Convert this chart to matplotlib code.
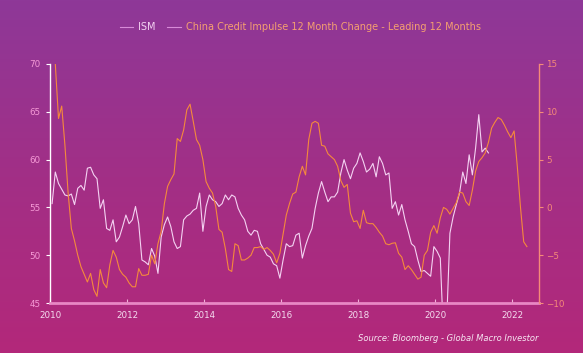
import matplotlib
matplotlib.use("Agg")
import matplotlib.pyplot as plt
import numpy as np
from matplotlib.colors import LinearSegmentedColormap

# monthly values, first ISM point is Jan 2010, first credit impulse point is Feb 2010
ism = [
    55.4, 58.7, 57.5, 56.9, 56.3, 56.2, 56.4, 55.3, 57.0, 57.3, 56.8, 59.1,  # 2010
    59.2, 58.4, 58.0, 54.9, 55.8, 52.8, 52.6, 53.7, 51.4, 51.9, 53.0, 54.2,  # 2011
    53.3, 53.7, 55.1, 53.3, 49.5, 49.3, 49.0, 50.7, 49.9, 48.1, 51.9, 53.2,  # 2012
    54.0, 53.0, 51.4, 50.7, 50.9, 53.7, 54.1, 54.3, 54.7, 54.9, 56.5, 52.5,  # 2013
    55.1, 56.3, 55.8, 55.6, 55.1, 55.4, 56.3, 55.8, 56.3, 56.1, 54.9, 54.2,  # 2014
    53.7, 52.5, 52.1, 52.6, 52.5, 51.2, 50.6, 50.0, 49.8, 49.1, 48.9, 47.6,  # 2015
    49.5, 51.2, 50.9, 51.0, 52.1, 52.3, 49.7, 51.0, 52.0, 52.8, 54.9, 56.5,  # 2016
    57.7, 56.6, 55.6, 56.1, 56.1, 56.6, 58.6, 60.0, 58.9, 58.0, 59.1, 59.6,  # 2017
    60.7, 59.8, 58.7, 59.0, 59.6, 58.2, 60.3, 59.6, 58.4, 58.6, 54.9, 55.6,  # 2018
    54.2, 55.3, 53.7, 52.5, 51.2, 50.9, 49.5, 48.3, 48.4, 48.1, 47.8, 50.9,  # 2019
    50.4, 49.7, 41.5, 43.1, 52.3, 54.0, 55.3, 56.5, 58.7, 57.5, 60.5, 58.4,  # 2020
    61.2, 64.7, 60.8, 61.2, 60.7,                                            # 2021
]

credit = [
    15.0, 9.3, 10.6, 6.5, 1.5, -2.2, -3.5, -5.0, -6.2, -7.0, -7.8,           # 2010
    -6.9, -8.6, -9.3, -6.5, -7.9, -8.4, -6.0, -4.5, -5.2, -6.5, -7.0, -7.3,  # 2011
    -7.9, -8.3, -8.3, -6.4, -7.1, -7.1, -7.0, -5.0, -5.9, -3.8, -2.5, 0.4,   # 2012
    2.2, 2.9, 3.5, 7.2, 6.9, 8.1, 10.2, 10.8, 9.0, 7.1, 6.5, 5.0,            # 2013
    2.7, 2.0, 1.5, 0.1, -2.3, -2.6, -4.3, -6.5, -6.7, -3.8, -4.0, -5.5,      # 2014
    -5.5, -5.3, -5.0, -4.2, -4.2, -4.1, -4.4, -4.2, -4.5, -4.9, -5.8, -4.8,  # 2015
    -2.8, -0.8, 0.4, 1.4, 1.6, 3.2, 4.3, 3.4, 7.1, 8.8, 9.0, 8.8,            # 2016
    6.5, 6.4, 5.6, 5.3, 5.0, 4.3, 2.8, 2.1, 2.4, -0.6, -1.5, -1.4,           # 2017
    -2.2, -0.3, -1.6, -1.7, -1.7, -2.1, -2.6, -3.0, -3.8, -3.9, -3.75, -3.7, # 2018
    -4.8, -5.2, -6.5, -6.1, -6.5, -7.0, -7.5, -7.3, -5.0, -4.5, -2.6, -1.9,  # 2019
    -2.7, -1.1, 0.0, -0.2, -0.7, -0.1, 0.5, 1.6, 1.5, 0.6, 0.2, 1.8,         # 2020
    3.8, 4.8, 5.2, 5.7, 6.8, 8.3, 8.9, 9.4, 9.2, 8.6, 7.9, 7.3,              # 2021
    8.0, 4.3, 0.0, -3.6, -4.1,                                               # 2022
]

ism_dates = 2010 + (np.arange(len(ism)) + 0.5) / 12
credit_dates = 2010 + (np.arange(len(credit)) + 1.5) / 12

year_ticks = [2010, 2012, 2014, 2016, 2018, 2020, 2022]
left_ticks = [45, 50, 55, 60, 65, 70]
right_ticks = [-10, -5, 0, 5, 10, 15]

ism_color = "#f4d2f2"
credit_color = "#f5893c"

fig = plt.figure(figsize=(5.83, 3.53), dpi=100)

# gradient background
bg = fig.add_axes([0, 0, 1, 1], zorder=-10)
cmap = LinearSegmentedColormap.from_list("bg", ["#8e3898", "#a22f86", "#b3287a"])
bg.imshow(np.linspace(0, 1, 256).reshape(-1, 1), aspect="auto", cmap=cmap,
          extent=[0, 1, 0, 1])
bg.axis("off")

ax = fig.add_axes([0.0866, 0.1416, 0.838, 0.6771])
ax.patch.set_alpha(0)
ax2 = ax.twinx()
ax2.patch.set_alpha(0)

l1, = ax.plot(ism_dates, ism, color=ism_color, lw=0.8, label="ISM")
l2, = ax2.plot(credit_dates, credit, color=credit_color, lw=0.8,
               label="China Credit Impulse 12 Month Change - Leading 12 Months")

ax.set_xlim(2010, 2022.69)
ax.set_ylim(45, 70)
ax2.set_ylim(-10, 15)
ax.set_xticks(year_ticks)
ax.set_xticklabels([str(y) for y in year_ticks])
ax.set_yticks(left_ticks)
ax2.set_yticks(right_ticks)

for a in (ax, ax2):
    a.spines["top"].set_visible(False)
ax.spines["right"].set_visible(False)
ax.spines["left"].set_color("#ffffff")
ax.spines["left"].set_linewidth(1)
ax.spines["bottom"].set_color("#e887c4")
ax.spines["bottom"].set_linewidth(2)
ax2.spines["left"].set_visible(False)
ax2.spines["bottom"].set_visible(False)
ax2.spines["right"].set_color("#f58a78")
ax2.spines["right"].set_linewidth(1)

ax.tick_params(axis="x", colors="#f4dcef", labelsize=6.3, length=3,
               direction="in", pad=6, color="#f0b0d8")
ax.tick_params(axis="y", colors="#ffffff", labelsize=6.3, length=3,
               direction="out", pad=4)
ax.tick_params(axis="y", labelcolor="#f59ad6")
ax2.tick_params(axis="y", colors="#f58a78", labelsize=6.3, length=3, pad=2)

leg = fig.legend(handles=[l1, l2], loc="center", bbox_to_anchor=(0.515, 0.923),
                 ncol=2, frameon=False, fontsize=7, handlelength=1.4,
                 handletextpad=0.5, columnspacing=1.2)
for h in leg.legend_handles:
    h.set_color("#d88ad8")
leg.get_texts()[0].set_color(ism_color)
leg.get_texts()[1].set_color("#f5a070")

fig.text(0.923, 0.04, "Source: Bloomberg - Global Macro Investor",
         color="#f6e6f2", fontsize=6, style="italic", ha="right", va="center")

fig.savefig("out.png", dpi=100)
